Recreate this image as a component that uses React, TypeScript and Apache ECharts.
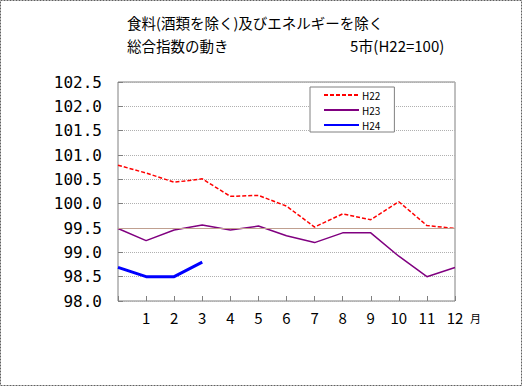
import React, { useEffect, useRef } from "react";
import * as echarts from "echarts";

const months = [0, 1, 2, 3, 4, 5, 6, 7, 8, 9, 10, 11, 12];
const h22 = [100.79, 100.63, 100.44, 100.51, 100.15, 100.17, 99.95, 99.52, 99.79, 99.67, 100.04, 99.55, 99.49];
const h23 = [99.49, 99.24, 99.46, 99.56, 99.46, 99.54, 99.34, 99.2, 99.4, 99.4, 98.92, 98.5, 98.69];
const h24 = [98.69, 98.5, 98.5, 98.8];
const yTicks = [98.0, 98.5, 99.0, 99.5, 100.0, 100.5, 101.0, 101.5, 102.0, 102.5];

const font = '"Noto Sans CJK JP", "Noto Sans", sans-serif';
const mono = '"DejaVu Sans Mono", "Liberation Mono", monospace';

export default function App() {
  const ref = useRef<HTMLDivElement>(null);
  useEffect(() => {
    if (!ref.current) return;
    const chart = echarts.init(ref.current, null, { renderer: "svg" });
    const pairs = (arr: number[]) => arr.map((v, i) => [months[i], v]);
    chart.setOption({
      animation: false,
      backgroundColor: "#ffffff",
      textStyle: { fontFamily: font },
      grid: {
        left: 118,
        top: 82,
        width: 337,
        height: 219,
        show: true,
        borderColor: "#808080",
        borderWidth: 1,
        backgroundColor: "transparent",
      },
      xAxis: {
        type: "value",
        min: 0,
        max: 12,
        interval: 1,
        axisLine: { show: false },
        axisTick: { show: true, inside: true, length: 5, lineStyle: { color: "#808080" } },
        splitLine: { show: false },
        axisLabel: {
          color: "#000",
          fontSize: 15,
          fontFamily: font,
          margin: 9,
          formatter: (v: number) => (v === 0 ? "" : String(v)),
        },
      },
      yAxis: {
        type: "value",
        min: 98,
        max: 102.5,
        interval: 0.5,
        axisLine: { show: false },
        axisTick: { show: true, inside: true, length: 5, lineStyle: { color: "#808080" } },
        splitLine: { show: true, lineStyle: { color: "#b0b0b0", type: "dotted", width: 1 } },
        axisLabel: {
          color: "#000",
          fontSize: 16,
          fontFamily: mono,
          margin: 16,
          formatter: (v: number) => {
            const t = yTicks.find((x) => Math.abs(x - v) < 1e-6);
            return t !== undefined ? t.toFixed(1) : "";
          },
        },
      },
      legend: {
        show: true,
        left: 310,
        top: 87,
        orient: "vertical",
        itemWidth: 35,
        itemHeight: 10,
        itemGap: 5,
        padding: [3, 14, 2, 13],
        borderColor: "#808080",
        borderWidth: 1,
        backgroundColor: "#fff",
        itemStyle: { opacity: 0 },
        textStyle: { fontSize: 10, color: "#000", fontFamily: font, padding: [0, 0, 0, -2] },
        data: ["H22", "H23", "H24"],
      },
      series: [
        {
          name: "H22",
          type: "line",
          data: pairs(h22),
          symbol: "none",
          lineStyle: { color: "#ff0000", width: 1.5, type: [4, 2] },
          itemStyle: { color: "#ff0000" },
          markLine: {
            silent: true,
            symbol: "none",
            label: { show: false },
            lineStyle: { color: "#c0a090", type: "solid", width: 1 },
            data: [{ yAxis: 99.5 }],
          },
        },
        {
          name: "H23",
          type: "line",
          data: pairs(h23),
          symbol: "none",
          lineStyle: { color: "#800080", width: 1.5 },
          itemStyle: { color: "#800080" },
        },
        {
          name: "H24",
          type: "line",
          data: pairs(h24),
          symbol: "none",
          lineStyle: { color: "#0000ff", width: 3 },
          itemStyle: { color: "#0000ff" },
        },
      ],
      graphic: [
        {
          type: "rect",
          shape: { x: 0.5, y: 0.5, width: 521, height: 385 },
          style: { fill: "none", stroke: "#606060", lineWidth: 1, lineDash: [2, 1] },
          silent: true,
        },
        {
          type: "text",
          left: 127,
          top: 15,
          style: { text: "食料(酒類を除く)及びエネルギーを除く", fontSize: 14.5, fill: "#000", fontFamily: font },
        },
        {
          type: "text",
          left: 127,
          top: 38,
          style: { text: "総合指数の動き", fontSize: 14.5, fill: "#000", fontFamily: font },
        },
        {
          type: "text",
          left: 350,
          top: 38,
          style: { text: "5市(H22=100)", fontSize: 15, fill: "#000", fontFamily: font },
        },
        {
          type: "text",
          left: 470,
          top: 312,
          style: { text: "月", fontSize: 11, fill: "#000", fontFamily: font },
        },
      ],
    });
    return () => chart.dispose();
  }, []);
  return (
    <div
      ref={ref}
      style={{ position: "absolute", left: 0, top: 0, width: 522, height: 386 }}
    />
  );
}
